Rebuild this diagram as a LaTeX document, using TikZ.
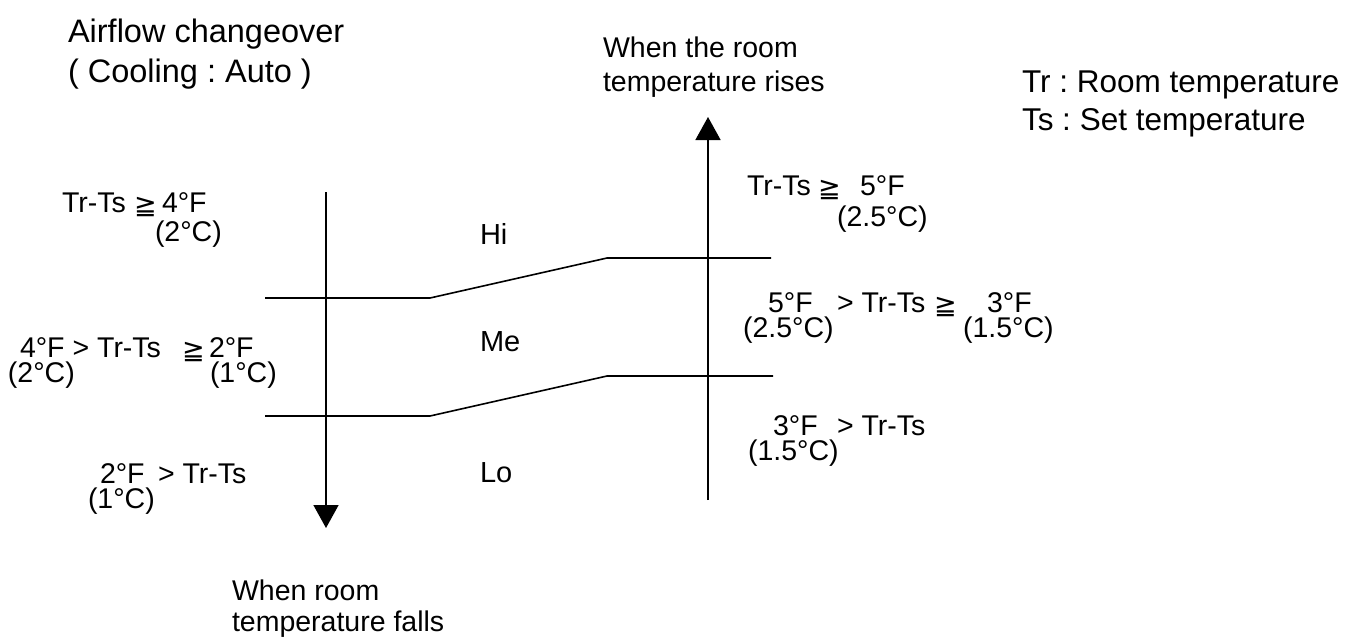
\documentclass[tikz,border=0pt]{standalone}
\usepackage{fontspec}
\setmainfont{Liberation Sans}
\newfontfamily\djv{DejaVu Sans}
\usetikzlibrary{arrows.meta}
\frenchspacing
\newcommand{\geqq}{{\djv\fontsize{27}{27}\selectfont ≧}}
\tikzset{
  txt/.style={anchor=base west,inner sep=0pt,outer sep=0pt,font=\fontsize{28.5}{34}\selectfont},
  bigtxt/.style={anchor=base west,inner sep=0pt,outer sep=0pt,font=\fontsize{32.5}{40}\selectfont},
  legtxt/.style={anchor=base west,inner sep=0pt,outer sep=0pt,font=\fontsize{31.5}{38}\selectfont},
  lvl/.style={anchor=base west,inner sep=0pt,outer sep=0pt,font=\fontsize{29}{34}\selectfont},
  sym/.style={anchor=base west,inner sep=0pt,outer sep=0pt},
  bound/.style={line width=1.6pt},
  flow/.style={line width=1.6pt,-{Triangle[length=23pt,width=25pt]}}
}
\begin{document}
\begin{tikzpicture}[x=1pt,y=-1pt]
\useasboundingbox (0,0) rectangle (1349,638);
% titles
\node[bigtxt] (t1) at (68,42) {Airflow changeover};
\node[bigtxt] (t2) at (68,82) {( Cooling : Auto )};
\node[txt] (up1) at (603,57) {When the room};
\node[txt] (up2) at (603,91) {temperature rises};
\node[legtxt] (lg1) at (1022,92) {Tr : Room temperature};
\node[legtxt] (lg2) at (1022,130) {Ts : Set temperature};
\node[txt] (dn1) at (232,600) {When room};
\node[txt] (dn2) at (232,631) {temperature falls};
% arrows
\coordinate (ltop) at (326,192);
\coordinate (lbot) at (326,528);
\coordinate (rbot) at (708,500);
\coordinate (rtop) at (708,117);
\draw[flow] (ltop) -- (lbot);
\draw[flow] (rbot) -- (rtop);
% boundaries
\coordinate (ua) at (265,298); \coordinate (ub) at (430,298);
\coordinate (uc) at (607,258); \coordinate (ud) at (771,258);
\coordinate (la) at (265,416); \coordinate (lb) at (430,416);
\coordinate (lc) at (607,376); \coordinate (ld) at (773,376);
\draw[bound] (ua) -- (ub) -- (uc) -- (ud);
\draw[bound] (la) -- (lb) -- (lc) -- (ld);
% levels
\node[lvl] (hi) at (480,244) {Hi};
\node[lvl] (me) at (480,351) {Me};
\node[lvl] (lo) at (480,482) {Lo};
% left conditions
\node[txt] (a1) at (62,212) {Tr-Ts};
\node[sym] (a1g) at (134,214) {\geqq};
\node[txt] (a1f) at (162,212) {4°F};
\node[txt] (a1c) at (155,241) {(2°C)};
\node[txt] (b1) at (20,357) {4°F > Tr-Ts};
\node[sym] (b1g) at (182,359) {\geqq};
\node[txt] (b1f) at (209,357) {2°F};
\node[txt] (b1c) at (8,382) {(2°C)};
\node[txt] (b1d) at (210,382) {(1°C)};
\node[txt] (c1) at (100,483) {2°F};
\node[txt] (c1r) at (158,483) {> Tr-Ts};
\node[txt] (c1c) at (88,508) {(1°C)};
% right conditions
\node[txt] (d1) at (747,195) {Tr-Ts};
\node[sym] (d1g) at (818,197) {\geqq};
\node[txt] (d1f) at (860,195) {5°F};
\node[txt] (d1c) at (837,226) {(2.5°C)};
\node[txt] (e1) at (768,312) {5°F};
\node[txt] (e1r) at (837,312) {> Tr-Ts};
\node[sym] (e1g) at (934,314) {\geqq};
\node[txt] (e1f) at (987,312) {3°F};
\node[txt] (e1c) at (743,337) {(2.5°C)};
\node[txt] (e1d) at (963,337) {(1.5°C)};
\node[txt] (f1) at (773,435) {3°F};
\node[txt] (f1r) at (837,435) {> Tr-Ts};
\node[txt] (f1c) at (748,460) {(1.5°C)};
\end{tikzpicture}
\end{document}
